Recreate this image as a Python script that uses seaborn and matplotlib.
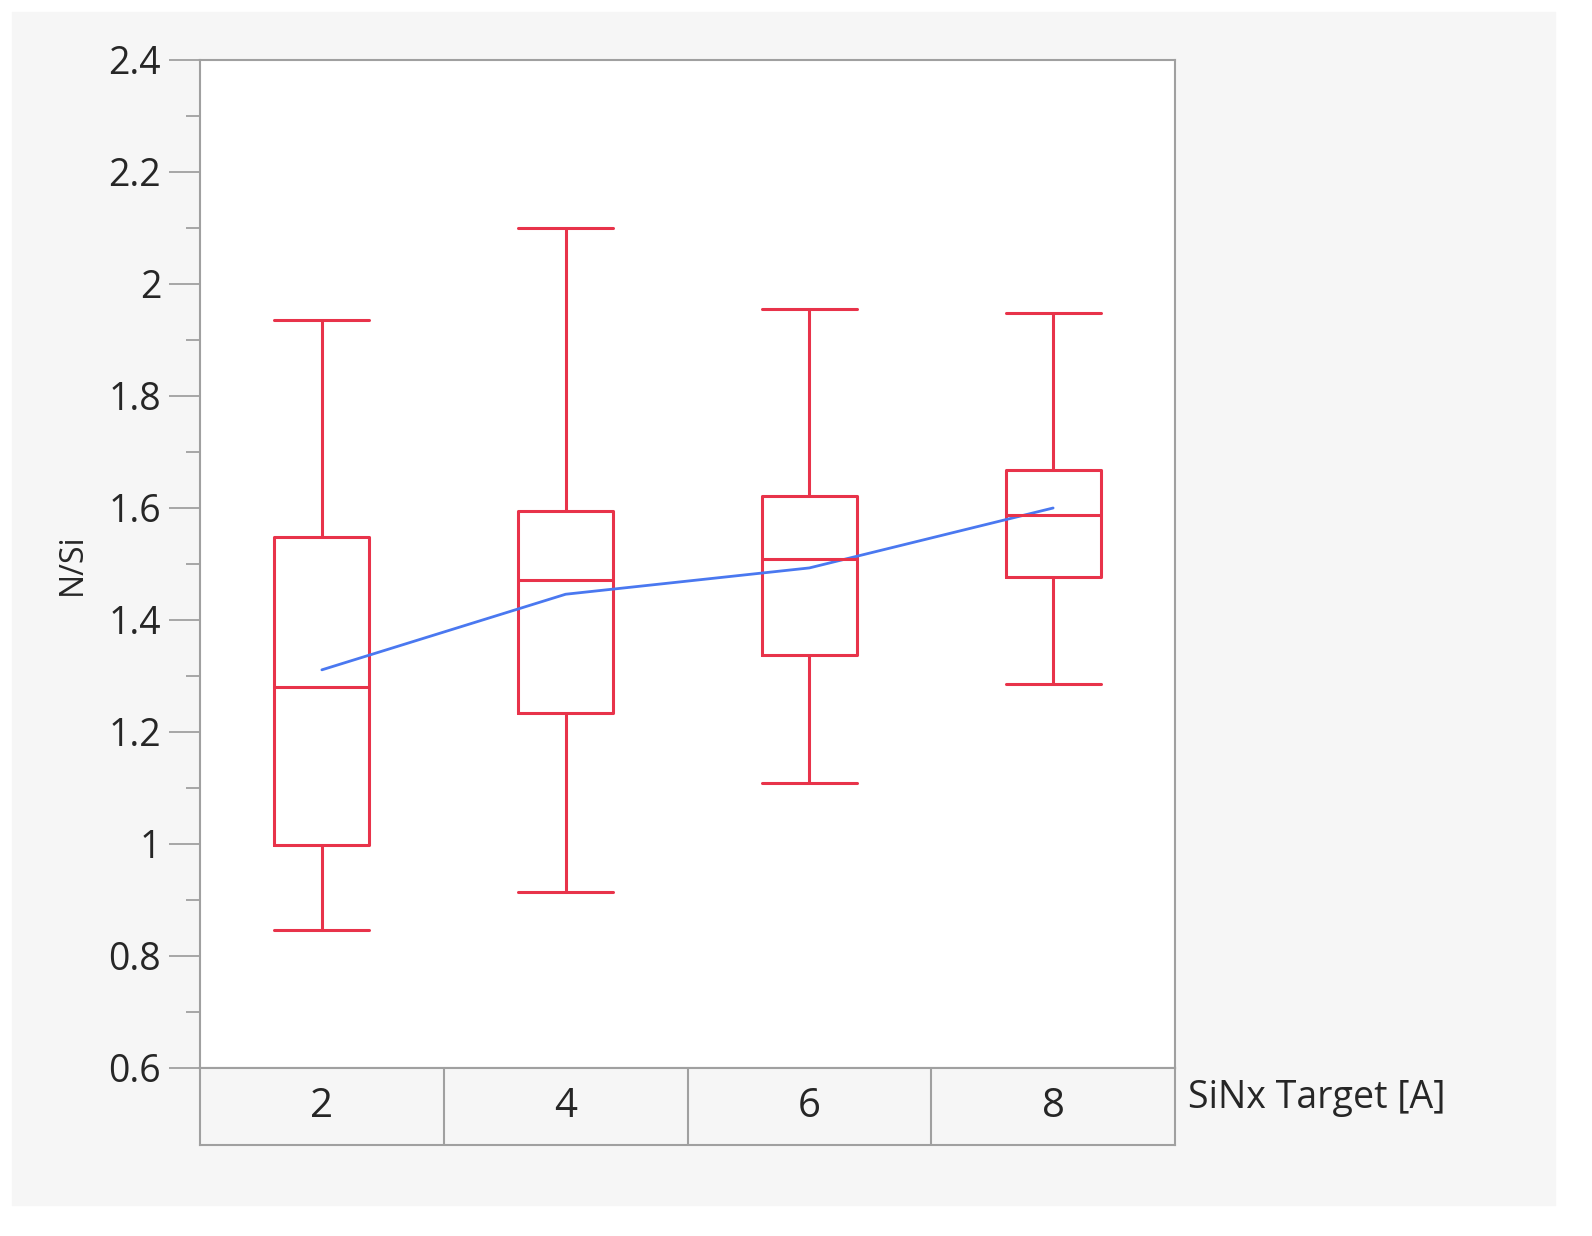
import numpy as np
import pandas as pd
import matplotlib
matplotlib.use("Agg")
import matplotlib.pyplot as plt
from matplotlib.patches import Rectangle
from matplotlib.ticker import MultipleLocator, FuncFormatter
import seaborn as sns

targets = ["2", "4", "6", "8"]
# five-number summaries: low whisker, Q1, median, Q3, high whisker
lows = [0.846, 0.914, 1.109, 1.286]
q1s = [0.998, 1.234, 1.337, 1.477]
medians = [1.280, 1.471, 1.509, 1.588]
q3s = [1.548, 1.595, 1.621, 1.668]
highs = [1.936, 2.100, 1.955, 1.948]
means = [1.311, 1.446, 1.493, 1.600]

rows = []
for t, a, b, c, d, e in zip(targets, lows, q1s, medians, q3s, highs):
    for v in (a, b, c, d, e):
        rows.append({"target": t, "ns": v})
df = pd.DataFrame(rows)

sns.set_style("white")
plt.rcParams["font.family"] = ["Open Sans", "DejaVu Sans"]

fig = plt.figure(figsize=(15.92, 12.36), dpi=100)
fig.patches.append(Rectangle((12 / 1592, 31 / 1236), 1543 / 1592, 1193 / 1236,
                             transform=fig.transFigure, color="#f6f6f6", zorder=-10))

ax = fig.add_axes([200 / 1592, 1 - 1068 / 1236, 975 / 1592, 1008 / 1236])
red = "#e8334a"
sns.boxplot(data=df, x="target", y="ns", order=targets, whis=np.inf, width=0.39,
            fill=False, color=red, linewidth=2.2, capwidths=0.39, ax=ax)
sns.pointplot(x=targets, y=means, order=targets, color="#4a78f0", marker="",
              linewidth=2, errorbar=None, ax=ax)

ax.set_ylim(0.6, 2.4)
ax.set_xlim(-0.5, 3.5)
ax.yaxis.set_major_locator(MultipleLocator(0.2))
ax.yaxis.set_minor_locator(MultipleLocator(0.1))
ax.yaxis.set_major_formatter(FuncFormatter(lambda v, p: f"{v:.1f}".rstrip("0").rstrip(".")))
ax.tick_params(axis="y", which="major", left=True, length=22, width=1.2, color="#999999",
               labelsize=27, pad=6)
ax.tick_params(axis="y", which="minor", left=True, length=10, width=1.2, color="#999999")
ax.set_xticks([])
ax.set_xlabel("")
ax.set_ylabel("N/Si", fontsize=23, labelpad=14)
for s in ax.spines.values():
    s.set_color("#a0a0a0")
    s.set_linewidth(1.5)

band = fig.add_axes([200 / 1592, 1 - 1145 / 1236, 975 / 1592, 77 / 1236])
band.set_facecolor("#f6f6f6")
band.set_xlim(-0.5, 3.5)
band.set_ylim(0, 1)
band.set_xticks([])
band.set_yticks([])
for s in band.spines.values():
    s.set_color("#a0a0a0")
    s.set_linewidth(1.5)
for i, t in enumerate(targets):
    band.text(i, 0.5, t, ha="center", va="center", fontsize=29)
    if i:
        band.axvline(i - 0.5, color="#a0a0a0", lw=1.5)
fig.text(1188 / 1592, 1 - 1098 / 1236, "SiNx Target [A]", ha="left", va="center", fontsize=27)

fig.savefig("out.png", dpi=100, facecolor="white")
